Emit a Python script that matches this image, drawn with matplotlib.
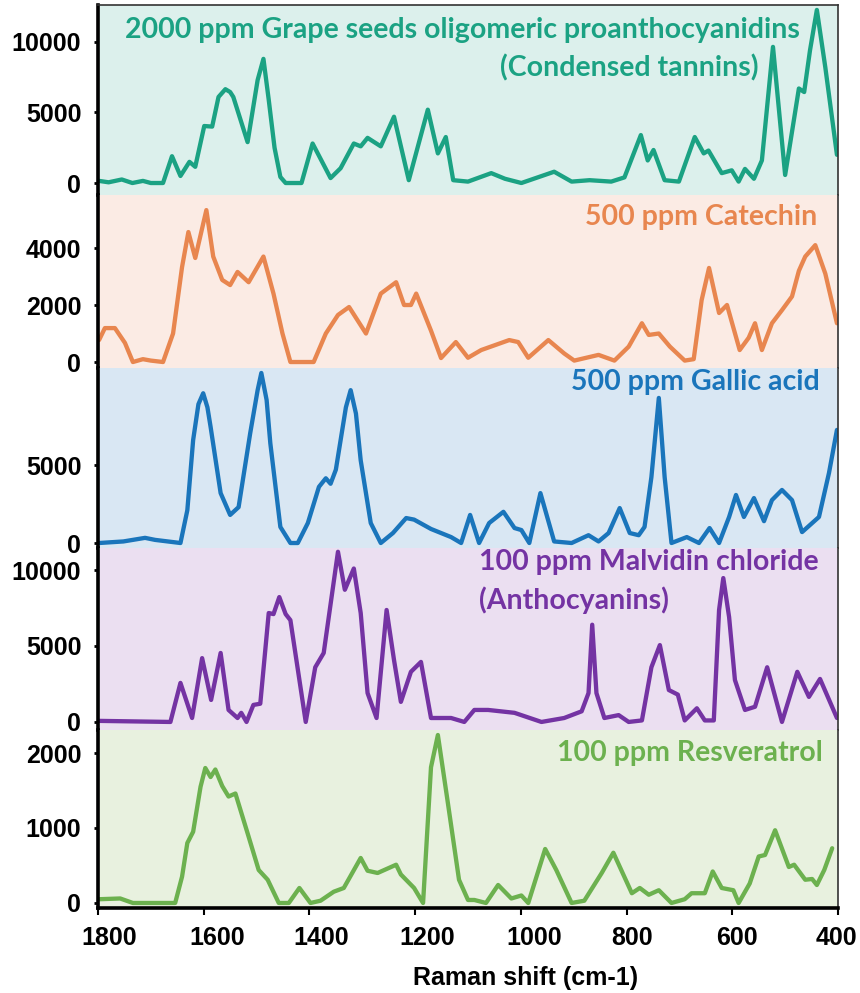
import matplotlib
matplotlib.use("Agg")
import matplotlib.pyplot as plt
import matplotlib.transforms as mtransforms

# Raman shift (cm-1) and intensity, one pair of lists per spectrum
grape_wn = [1798, 1780, 1755, 1735, 1715, 1700, 1677, 1660, 1644, 1627, 1616, 1599, 1584, 1572, 1559,
            1550, 1544, 1517, 1498, 1487, 1477, 1466, 1455, 1445, 1415, 1394, 1360, 1341, 1316, 1303,
            1290, 1265, 1240, 1212, 1176, 1157, 1142, 1128, 1100, 1056, 1030, 999, 937, 904, 870, 829,
            804, 773, 760, 749, 728, 701, 671, 654, 645, 620, 601, 588, 576, 559, 544, 523, 500, 474,
            464, 453, 440, 424, 402]
grape_int = [150, 50, 250, 0, 150, 0, 0, 1900, 500, 1500, 1150, 4040, 4000, 6100, 6650,
             6450, 6100, 2900, 7300, 8800, 5900, 2500, 430, 0, 0, 2800, 350, 1050, 2800, 2600,
             3200, 2600, 4700, 200, 5200, 2100, 3260, 200, 100, 700, 300, 0, 800, 100, 200, 100,
             400, 3400, 1600, 2340, 200, 100, 3260, 2100, 2300, 700, 900, 100, 1000, 300, 1600, 9650, 570, 6700,
             6450, 9400, 12270, 8200, 2000]

catechin_wn = [1798, 1787, 1768, 1749, 1734, 1715, 1700, 1677, 1658, 1641, 1629, 1616, 1595, 1582, 1565,
               1550, 1536, 1515, 1487, 1468, 1451, 1436, 1392, 1369, 1346, 1325, 1293, 1265, 1236, 1221,
               1208, 1198, 1170, 1151, 1123, 1100, 1075, 1022, 1005, 986, 948, 918, 899, 853, 823, 796,
               771, 758, 739, 718, 690, 673, 658, 644, 625, 610, 586, 569, 557, 544, 525, 506, 487, 474,
               462, 443, 424, 402]
catechin_int = [770, 1190, 1190, 670, 0, 100, 50, 0, 1000, 3330, 4560, 3650, 5330, 3700, 2880,
                2700, 3160, 2800, 3700, 2400, 1000, 0, 0, 1000, 1650, 1930, 1000, 2400, 2800, 2000,
                2000, 2400, 1100, 140, 700, 150, 420, 770, 700, 150, 770, 300, 50, 250, 50, 540,
                1360, 950, 1000, 540, 50, 100, 2170, 3300, 1720, 2000, 420, 850, 1360, 420, 1360, 1820, 2300, 3200,
                3700, 4100, 3100, 1360]

gallic_wn = [1798, 1752, 1711, 1692, 1644, 1631, 1620, 1610, 1601, 1593, 1587, 1568, 1550, 1534, 1512,
             1498, 1491, 1481, 1474, 1455, 1436, 1422, 1403, 1382, 1369, 1360, 1350, 1331, 1322, 1312,
             1303, 1284, 1265, 1242, 1217, 1202, 1170, 1132, 1113, 1096, 1079, 1060, 1033, 1012, 999,
             984, 963, 937, 904, 872, 853, 834, 813, 794, 777, 766, 753, 739, 728, 715, 686, 663, 643,
             625, 606, 593, 578, 559, 540, 525, 506, 487, 468, 436, 417, 402]
gallic_int = [0, 100, 330, 200, 0, 2100, 6600, 8900, 9600, 8700, 7450, 3200, 1800, 2300, 7050,
              9800, 10900, 9170, 6400, 1030, 0, 0, 1280, 3600, 4150, 3800, 4700, 8700, 9800, 8300,
              5300, 1280, 0, 640, 1600, 1500, 900, 380, 0, 1800, 0, 1280, 2000, 960, 830,
              0, 3200, 100, 0, 500, 100, 640, 2240, 640, 500, 1030, 4230, 9300, 4230, 0, 380, 0, 960,
              0, 1670, 3080, 1670, 2880, 1400, 2750, 3400, 2750, 700, 1670, 4500, 7250]

malvidin_wn = [1798, 1663, 1644, 1622, 1603, 1586, 1568, 1553, 1536, 1529, 1519, 1506, 1493, 1477, 1468,
               1457, 1445, 1436, 1407, 1389, 1373, 1346, 1333, 1316, 1303, 1290, 1273, 1254, 1240, 1227,
               1208, 1189, 1170, 1132, 1107, 1088, 1062, 1012, 961, 918, 885, 872, 865, 857, 842, 815,
               796, 771, 753, 737, 720, 703, 690, 667, 652, 635, 625, 617, 606, 595, 576, 557, 534, 506,
               477, 455, 434, 402]
malvidin_int = [70, 0, 2570, 260, 4200, 1450, 4540, 790, 260, 600, 0, 1120, 1200, 7170, 7100,
                8220, 7100, 6700, 0, 3600, 4540, 11200, 8700, 10100, 7170, 1900, 260, 7370, 4080, 1320,
                3300, 3950, 260, 260, 0, 790, 790, 600, 0, 260, 700, 1900, 6400, 1900, 260, 450,
                0, 100, 3600, 5060, 2100, 1800, 100, 900, 100, 100, 7370, 9470, 6900, 2760, 790, 1000, 3600, 0,
                3300, 1650, 2830, 260]

resveratrol_wn = [1798, 1758, 1734, 1654, 1641, 1631, 1620, 1606, 1597, 1587, 1578, 1565, 1553, 1540, 1517,
                  1496, 1479, 1458, 1439, 1419, 1398, 1379, 1354, 1335, 1303, 1290, 1271, 1236, 1227, 1202,
                  1185, 1170, 1157, 1138, 1117, 1100, 1088, 1066, 1043, 1018, 999, 986, 954, 933, 904, 880,
                  847, 825, 790, 775, 758, 739, 715, 690, 677, 652, 637, 620, 598, 588, 567, 550, 538, 519,
                  493, 483, 462, 449, 440, 426, 411]
resveratrol_int = [50, 60, 0, 0, 350, 800, 950, 1550, 1800, 1680, 1780, 1560, 1420, 1460, 930,
                   440, 310, 0, 0, 200, 0, 30, 150, 200, 600, 430, 400, 510, 380, 200,
                   0, 1810, 2240, 1330, 310, 40, 40, 0, 240, 60, 100, 0, 720, 440, 0, 30,
                   400, 670, 130, 200, 110, 170, 0, 50, 130, 130, 420, 200, 170, 0, 260, 620, 640, 970,
                   480, 510, 310, 320, 240, 440, 730]

x_ticks = [1800, 1600, 1400, 1200, 1000, 800, 600, 400]
x_label_shift = [11, 13, 12, 12, 13, 5, 5, -2]   # label offsets in px, as in the original

panels = [
    (grape_wn, grape_int, "#1ba283", "#dcf0ec", (-850, 12620), [0, 5000, 10000]),
    (catechin_wn, catechin_int, "#e8864f", "#fbebe4", (-210, 5860), [0, 2000, 4000]),
    (gallic_wn, gallic_int, "#1a75bb", "#d9e7f3", (-320, 11220), [0, 5000]),
    (malvidin_wn, malvidin_int, "#7433a3", "#ebdff1", (-530, 11450), [0, 5000, 10000]),
    (resveratrol_wn, resveratrol_int, "#6cb14f", "#e8f1df", (-67, 2307), [0, 1000, 2000]),
]

W, H = 860, 993
fig = plt.figure(figsize=(W / 100, H / 100), dpi=100)
gs = fig.add_gridspec(5, 1, left=98 / W, right=838 / W, top=1 - 5 / H, bottom=1 - 908 / H,
                      hspace=0, height_ratios=[190, 173, 180, 182, 178])

tick_font = dict(family="Liberation Sans", weight="bold", size=18)
axes = []
for i, (wn, inten, color, bg, ylim, yticks) in enumerate(panels):
    ax = fig.add_subplot(gs[i])
    ax.set_facecolor(bg)
    ax.plot(wn, inten, color=color, lw=3.1, solid_joinstyle="round", solid_capstyle="round")
    ax.set_xlim(1800, 400)
    ax.set_ylim(*ylim)
    ax.set_yticks(yticks)
    ax.set_yticklabels([str(t) for t in yticks], fontdict=tick_font)
    ax.tick_params(axis="y", length=3, width=2, pad=9, direction="out")
    ax.set_xticks(x_ticks)
    for s in ["top", "right", "bottom"]:
        ax.spines[s].set_visible(False)
    ax.spines["left"].set_linewidth(2.6)
    ax.spines["left"].set_color("black")
    ax.spines["right"].set_visible(True)
    ax.spines["right"].set_linewidth(1.2)
    ax.spines["right"].set_color("#333333")
    if i == 0:
        ax.spines["top"].set_visible(True)
        ax.spines["top"].set_linewidth(1.2)
        ax.spines["top"].set_color("#333333")
    if i < 4:
        ax.tick_params(axis="x", length=0, labelbottom=False)
    axes.append(ax)

ax = axes[-1]
ax.spines["bottom"].set_visible(True)
ax.spines["bottom"].set_linewidth(2.6)
ax.spines["bottom"].set_color("black")
ax.set_xticklabels([str(t) for t in x_ticks], fontdict=tick_font)
ax.tick_params(axis="x", length=5, width=1.5, pad=8, direction="out")
for lab, dx in zip(ax.get_xticklabels(), x_label_shift):
    shift = mtransforms.ScaledTranslation(dx / 100, 0, fig.dpi_scale_trans)
    lab.set_transform(lab.get_transform() + shift)

fig.text(526 / W, 1 - 978 / H, "Raman shift (cm-1)", ha="center", va="center",
         family="Liberation Sans", weight="bold", size=18)

# panel captions
title_font = dict(family="Lato", weight="bold", size=20.5)
captions = [
    ("2000 ppm Grape seeds oligomeric proanthocyanidins", 800, 30, "right", "#1ba283"),
    ("(Condensed tannins)", 758, 68, "right", "#1ba283"),
    ("500 ppm Catechin", 817, 217, "right", "#e8864f"),
    ("500 ppm Gallic acid", 820, 382, "right", "#1a75bb"),
    ("100 ppm Malvidin chloride", 479, 562, "left", "#7433a3"),
    ("(Anthocyanins)", 479, 600, "left", "#7433a3"),
    ("100 ppm Resveratrol", 823, 753, "right", "#6cb14f"),
]
for txt, x, y, ha, c in captions:
    fig.text(x / W, 1 - y / H, txt, ha=ha, va="center", color=c, **title_font)

fig.savefig("out.png", dpi=100)
